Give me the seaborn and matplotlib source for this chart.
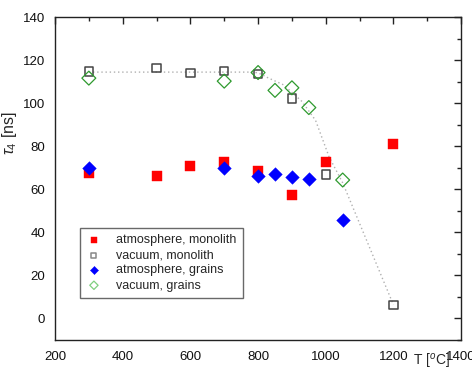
import numpy as np
import pandas as pd
import matplotlib
matplotlib.use("Agg")
import matplotlib.pyplot as plt
from matplotlib.ticker import MultipleLocator
import seaborn as sns

# atmosphere, monolith
atm_mono_T = [300, 500, 600, 700, 800, 900, 1000, 1200]
atm_mono_tau = [67.7, 66.1, 70.8, 72.7, 68.5, 57.4, 72.8, 81.2]
# vacuum, monolith
vac_mono_T = [300, 500, 600, 700, 800, 900, 1000, 1200]
vac_mono_tau = [114.8, 116.4, 114.2, 115.1, 113.7, 102.2, 66.9, 6.2]
# atmosphere, grains
atm_gr_T = [300, 700, 800, 850, 900, 950, 1050]
atm_gr_tau = [69.7, 70.0, 66.3, 67.1, 65.5, 64.7, 45.6]
# vacuum, grains
vac_gr_T = [300, 700, 800, 850, 900, 950, 1050]
vac_gr_tau = [111.7, 110.3, 114.3, 106.0, 107.2, 98.0, 64.3]
# dotted guide line
guide_T = [300, 780, 800, 830, 875, 930, 970, 1010, 1050, 1200]
guide_tau = [114.5, 114.5, 114.2, 111.8, 108.6, 100.8, 92.0, 75.0, 63.0, 6.2]

sns.set_style("white")
plt.rcParams['font.family'] = ['Liberation Sans', 'DejaVu Sans']
plt.rcParams['mathtext.fontset'] = 'custom'
plt.rcParams['mathtext.rm'] = 'Liberation Sans'
plt.rcParams['mathtext.it'] = 'Liberation Sans:italic'

fig = plt.figure(figsize=(4.72, 3.72), dpi=100)
ax = fig.add_axes([0.1165, 0.0868, 0.8605, 0.8667])

guide = pd.DataFrame({"T": guide_T, "tau": guide_tau})
sns.lineplot(data=guide, x="T", y="tau", sort=False, ax=ax, color="#b0b0b0",
             linestyle=(0, (1, 2)), linewidth=1.0, zorder=1)

sns.scatterplot(x=atm_mono_T, y=atm_mono_tau, ax=ax, marker="s", s=42,
                color="#ff0000", edgecolor="#ff0000", linewidth=0.3,
                label="atmosphere, monolith", zorder=3)
sns.scatterplot(x=vac_mono_T, y=vac_mono_tau, ax=ax, marker="s", s=36,
                facecolor="none", edgecolor="#444444", linewidth=1.1,
                label="vacuum, monolith", zorder=3)
sns.scatterplot(x=atm_gr_T, y=atm_gr_tau, ax=ax, marker="D", s=48,
                color="#0000ff", edgecolor="#0000ff", linewidth=0.3,
                label="atmosphere, grains", zorder=4)
sns.scatterplot(x=vac_gr_T, y=vac_gr_tau, ax=ax, marker="D", s=50,
                facecolor="none", edgecolor="#2e9a2e", linewidth=0.9,
                label="vacuum, grains", zorder=4)

ax.set_xlim(200, 1400)
ax.set_ylim(-10, 140)
ax.xaxis.set_major_locator(MultipleLocator(200))
ax.xaxis.set_minor_locator(MultipleLocator(100))
ax.yaxis.set_major_locator(MultipleLocator(20))
ax.yaxis.set_minor_locator(MultipleLocator(10))
ax.set_yticks(np.arange(0, 141, 20))

for sp in ax.spines.values():
    sp.set_color("#222222")
    sp.set_linewidth(1.0)

ax.tick_params(axis="both", which="both", direction="out", color="#222222",
               labelsize=9.5, labelcolor="#111111", width=1.0)
ax.tick_params(which="major", length=5)
ax.tick_params(which="minor", length=3)
ax.tick_params(axis="x", which="both", top=True, pad=3)
ax.tick_params(axis="y", which="both", right=True, pad=2)

# Origin-style: top / right ticks point inward
for t in ax.xaxis.get_major_ticks() + ax.xaxis.get_minor_ticks():
    t.tick2line.set_marker(3)
for t in ax.yaxis.get_major_ticks() + ax.yaxis.get_minor_ticks():
    t.tick2line.set_marker(0)

ax.set_xlabel("")
ax.set_ylabel(r"$\tau_4$ [ns]", fontsize=11.5)
ax.yaxis.set_label_coords(-0.088, 0.64)
fig.text(0.874, 0.002, "T [$^{o}$C]", fontsize=10, ha="left", va="bottom")

leg = ax.legend(loc="lower left", bbox_to_anchor=(0.062, 0.13), fontsize=9,
                frameon=True, fancybox=False, edgecolor="#444444",
                labelspacing=0.25, handlelength=1.2, handletextpad=1.2,
                borderpad=0.5, markerscale=0.6, borderaxespad=0)
leg.get_frame().set_linewidth(1.0)
leg.legend_handles[1].set_edgecolor("#888888")
leg.legend_handles[3].set_edgecolor("#7fcf7f")

fig.savefig("out.png", dpi=100)
